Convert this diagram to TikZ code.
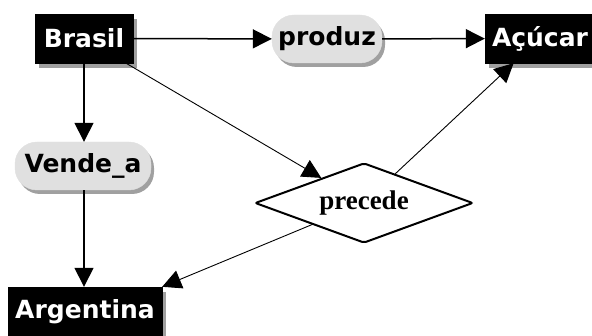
\documentclass[tikz,border=0pt]{standalone}
\usepackage{fontspec}
\setmainfont{DejaVu Sans}
\newfontfamily\serifb{Liberation Serif}
\usetikzlibrary{shapes.geometric,arrows.meta,shadows}
\definecolor{pillfill}{HTML}{E0E0E0}
\definecolor{shadowgray}{HTML}{A0A0A0}
\tikzset{
  conceptbox/.style={draw=black, fill=black, text=white, inner sep=0pt,
    font=\fontsize{25}{29}\selectfont\bfseries,
    drop shadow={shadow xshift=4pt, shadow yshift=-5pt, fill=shadowgray, opacity=1}},
  linkpill/.style={draw=pillfill, fill=pillfill, text=black, inner sep=0pt, rounded corners=22pt,
    font=\fontsize{25}{29}\selectfont\bfseries,
    drop shadow={shadow xshift=3pt, shadow yshift=-4pt, fill=shadowgray, opacity=1}},
  relshape/.style={diamond, draw=black, line width=2pt, fill=white, inner sep=0pt,
    minimum width=218pt, minimum height=80pt, aspect=2.725, rounded corners=2pt,
    font=\serifb\fontsize{27}{31}\selectfont\bfseries},
  thickarrow/.style={line width=1.5pt, -{Triangle[length=19pt,width=19pt]}},
  thinarrow/.style={line width=0.9pt, -{Triangle[length=19pt,width=19pt]}},
}
\begin{document}
\begin{tikzpicture}[x=1pt,y=-1pt]
\useasboundingbox (0,0) rectangle (592,336);
\node[conceptbox, minimum width=98pt, minimum height=49pt] (brasil) at (84,38.5) {Brasil};
\node[linkpill, minimum width=110pt, minimum height=48pt] (produz) at (327,39) {produz};
\node[conceptbox, minimum width=110pt, minimum height=49pt] (acucar) at (540,38.5) {Açúcar};
\node[linkpill, minimum width=136pt, minimum height=48pt] (vende) at (83,166) {Vende\_a};
\node[conceptbox, minimum width=154pt, minimum height=49pt] (argentina) at (85,311.5) {Argentina};
\node[relshape] (precede) at (364,203) {precede};

\draw[thickarrow] (brasil) -- (produz);
\draw[thickarrow] (produz) -- (acucar);
\draw[thickarrow] (brasil.south) -- (brasil.south |- vende.north);
\draw[thickarrow] (brasil.south |- vende.south) -- (brasil.south |- argentina.north);
\draw[thinarrow] (brasil) -- (precede);
\draw[thinarrow] (precede) -- (acucar);
\draw[thinarrow] (precede) -- (argentina.north east);
\end{tikzpicture}
\end{document}
